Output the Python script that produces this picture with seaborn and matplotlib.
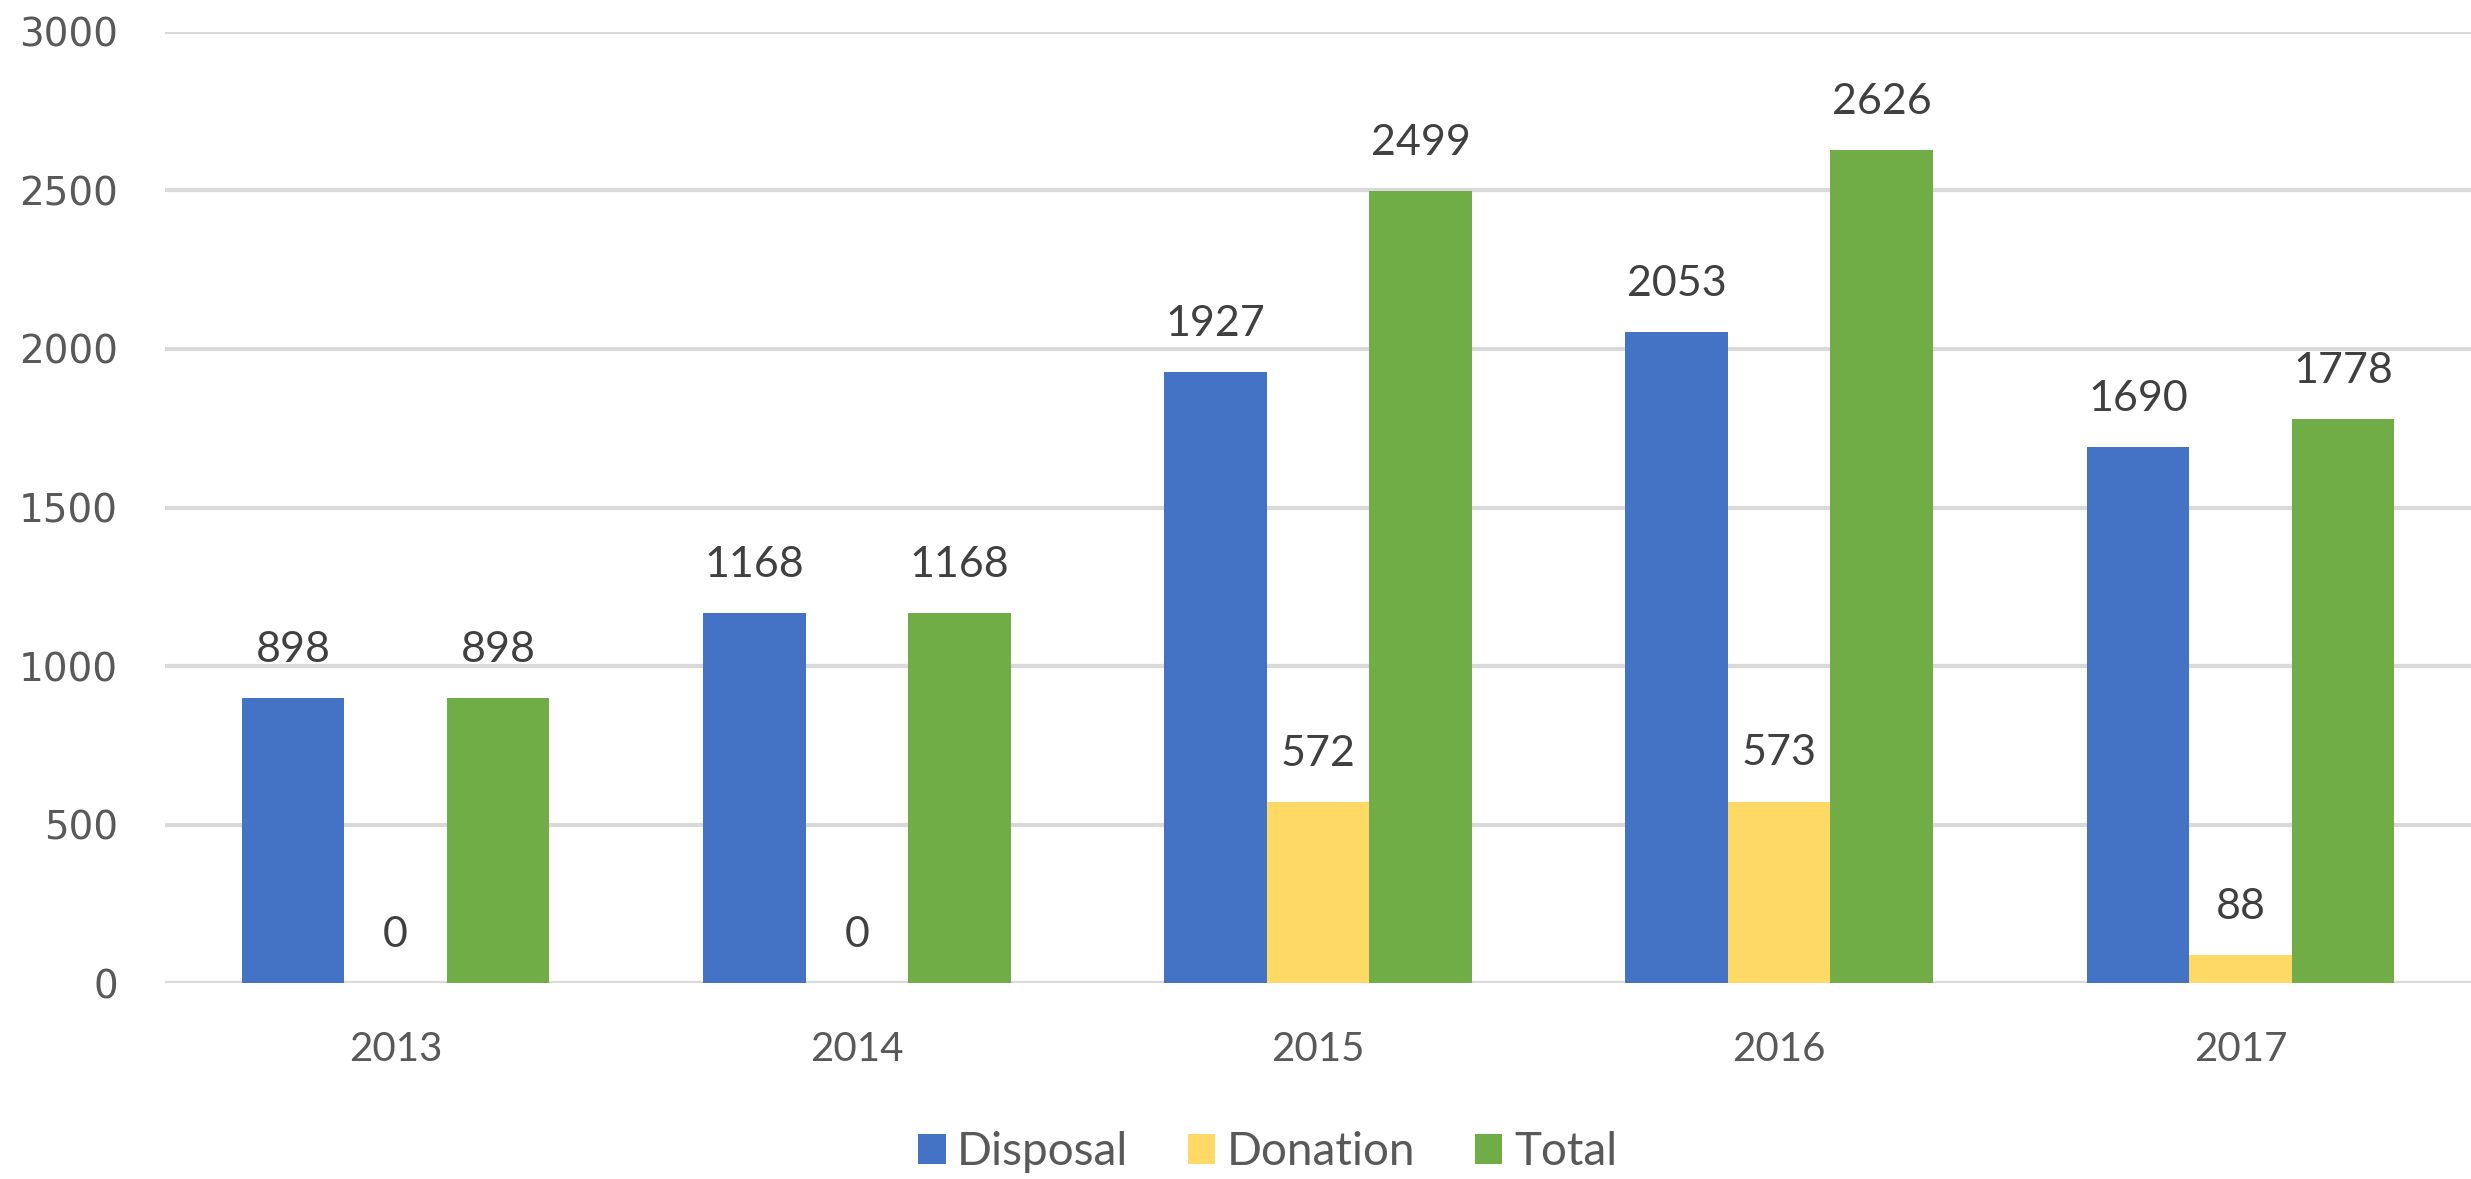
#!/usr/bin/env python3

import matplotlib
matplotlib.use("Agg")
import matplotlib.pyplot as plt
import pandas as pd
import seaborn as sns

# Data
years = ["2013", "2014", "2015", "2016", "2017"]
disposal = [898, 1168, 1927, 2053, 1690]
donation = [0, 0, 572, 573, 88]
total = [898, 1168, 2499, 2626, 1778]
series = ["Disposal", "Donation", "Total"]
colors = ["#4472C4", "#FFD966", "#70AD47"]

df = pd.DataFrame(
    {
        "year": years * 3,
        "value": disposal + donation + total,
        "series": [s for s in series for _ in years],
    }
)

sns.set_theme(style="white")
plt.rcParams["font.family"] = ["Lato", "DejaVu Sans"]

fig = plt.figure(figsize=(24.71, 11.79), dpi=100)
ax = fig.add_axes([0.0668, 0.166, 0.9332, 0.807])

sns.barplot(
    df,
    ax=ax,
    x="year",
    y="value",
    hue="series",
    hue_order=series,
    palette=colors,
    width=0.667,
    saturation=1,
    errorbar=None,
    linewidth=0,
    zorder=3,
)

for container in ax.containers:
    ax.bar_label(container, padding=21, fontsize=31, color="#404040")

ax.set_ylim(0, 3000)
ax.set_xlim(-0.5, 4.5)
ax.set_yticks(range(0, 3001, 500))
ax.grid(axis="y", color="#D9D9D9", linewidth=3, zorder=0)
ax.set_axisbelow(True)
for side in ["top", "right", "left", "bottom"]:
    ax.spines[side].set_visible(False)
ax.tick_params(axis="y", length=0, pad=34, labelsize=28, labelcolor="#595959")
ax.tick_params(axis="x", length=0, pad=34, labelsize=29, labelcolor="#595959")
for lbl in ax.get_yticklabels():
    lbl.set_family(["DejaVu Sans"])
ax.set_xlabel("")
ax.set_ylabel("")

handles, labels = ax.get_legend_handles_labels()
ax.get_legend().remove()
fig.legend(
    handles,
    labels,
    loc="lower center",
    bbox_to_anchor=(0.513, -0.03),
    ncol=3,
    frameon=False,
    fontsize=33,
    handlelength=0.6,
    handleheight=0.6,
    handletextpad=0.25,
    columnspacing=1.3,
    labelcolor="#595959",
)

plt.savefig("out.png", dpi=100)
